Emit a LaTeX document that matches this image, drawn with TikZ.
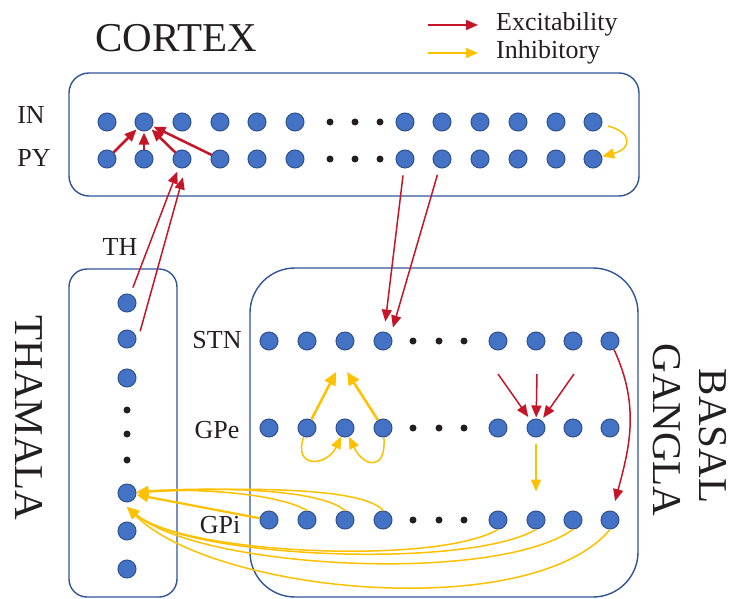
\documentclass[tikz,border=0pt]{standalone}
\usepackage{fontspec}
\setmainfont{Liberation Serif}
\usetikzlibrary{arrows.meta,calc}
\definecolor{exccol}{RGB}{196,22,40}
\definecolor{inhcol}{RGB}{255,192,0}
\definecolor{nfill}{RGB}{68,114,196}
\definecolor{nedge}{RGB}{47,82,143}
\definecolor{boxcol}{RGB}{47,85,151}
\definecolor{txtcol}{RGB}{35,31,32}
\begin{document}
\begin{tikzpicture}[x=1pt,y=1pt,
  neuron/.style={circle,fill=nfill,draw=nedge,line width=1pt,minimum size=18pt,inner sep=0pt},
  region/.style={draw=boxcol,line width=1.4pt},
  lbl/.style={text=txtcol,inner sep=0pt,font=\fontsize{26}{30}\selectfont},
  title/.style={text=txtcol,inner sep=0pt,font=\fontsize{41}{46}\selectfont},
  tip/.style={-{Triangle[length=12pt,width=10pt]}},
  exc/.style={tip,draw=exccol,line width=1.5pt},
  excthick/.style={exc,line width=2.5pt},
  inh/.style={tip,draw=inhcol,line width=1.5pt},
  inhthick/.style={inh,line width=2.5pt,-{Triangle[length=13pt,width=12pt]}}]
\useasboundingbox (0,0) rectangle (733,-599);

% region outlines
\draw[region,rounded corners=20pt] (69,-73) rectangle (639,-196);
\draw[region,rounded corners=18pt] (69,-269) rectangle (177,-597);
\draw[region,rounded corners=45pt] (250,-268) rectangle (638,-597);

% titles and row labels
\node[title] (cortex) at (176,-38) {CORTEX};
\node[title,rotate=-90] (thamala) at (29,-418) {THAMALA};
\node[title,rotate=-90] (basal) at (713,-436) {BASAL};
\node[title,rotate=-90] (gangla) at (667,-430) {GANGLA};
\node[lbl] (lin) at (31,-115) {IN};
\node[lbl] (lpy) at (34,-158) {PY};
\node[lbl] (lth) at (120,-247) {TH};
\node[lbl] (lstn) at (217,-340) {STN};
\node[lbl] (lgpe) at (217,-430) {GPe};
\node[lbl] (lgpi) at (220,-525) {GPi};

% legend
\coordinate (le1) at (428,-25); \coordinate (le2) at (478,-25);
\coordinate (li1) at (428,-53); \coordinate (li2) at (478,-53);
\draw[exc,line width=1.8pt] (le1) -- (le2);
\draw[inh,line width=1.8pt] (li1) -- (li2);
\node[lbl,anchor=west] (lexc) at (496,-24) {Excitability};
\node[lbl,anchor=west] (linh) at (496,-52) {Inhibitory};

% cortex: interneurons and pyramidal cells
\foreach \x [count=\i] in {107,144,182,220,257,295,405,442,480,518,556,593} {
  \node[neuron] (in\i) at (\x,-122) {};
  \node[neuron] (py\i) at (\x,-159) {};
}
\foreach \x in {330,355,380} {
  \fill[txtcol] (\x,-122) circle (3.5pt);
  \fill[txtcol] (\x,-159) circle (3.5pt);
}

% thalamus
\foreach \y [count=\i] in {303,339,378,493,531,569}
  \node[neuron] (th\i) at (127,-\y) {};
\foreach \y in {410,434,460}
  \fill[txtcol] (127,-\y) circle (3.5pt);

% basal ganglia rows
\foreach \x [count=\i] in {269,307,345,383,498,536,573,610} {
  \node[neuron] (stn\i) at (\x,-341) {};
  \node[neuron] (gpe\i) at (\x,-428) {};
  \node[neuron] (gpi\i) at (\x,-520) {};
}
\foreach \x in {413,439,464} {
  \fill[txtcol] (\x,-341) circle (3.5pt);
  \fill[txtcol] (\x,-428) circle (3.5pt);
  \fill[txtcol] (\x,-520) circle (3.5pt);
}

% cortex internal connections
\foreach \j in {1,2,3,4}
  \draw[excthick,shorten >=1pt] (py\j) -- (in2);
\draw[inh,shorten <=6pt] (in12) to[out=-15,in=15,looseness=2.5] (py12);

% thalamus -> cortex
\draw[exc,shorten <=7pt,shorten >=4pt] (th1) -- (py3);
\draw[exc,shorten <=8pt,shorten >=19pt] ($(th2)+(11,0)$) -- ($(py3)+(6,0)$);

% cortex -> STN
\draw[exc,shorten <=7pt,shorten >=10pt] (py7) -- (stn4);
\draw[exc,shorten <=7pt,shorten >=14pt] (py8) -- ($(stn4)+(6,0)$);

% STN -> GPe
\coordinate (sa) at (498,-374);
\coordinate (sb) at (537,-374);
\coordinate (sc) at (574,-374);
\draw[exc,shorten >=4pt] (sa) -- (gpe6);
\draw[exc,shorten >=1pt] (sb) -- (gpe6);
\draw[exc,shorten >=3pt] (sc) -- (gpe6);

% STN -> GPi
\draw[exc,shorten >=10pt] (stn8) to[out=-65,in=75] (gpi8);

% GPe -> STN
\coordinate (ga) at (336,-372);
\coordinate (gb) at (347,-372);
\draw[inhthick] (gpe2) -- (ga);
\draw[inhthick] (gpe4) -- (gb);

% GPe lateral inhibition
\draw[inh] (gpe2) to[out=-110,in=-115,looseness=2.3] (gpe3);
\draw[inh] (gpe4) to[out=-85,in=-65,looseness=2.5] (gpe3);

% GPe -> GPi
\draw[inh,shorten <=6pt,shorten >=19pt] (gpe6) -- (gpi6);

% GPi -> thalamus
\draw[inh,line width=2.2pt] (gpi1) -- (th4);
\draw[inh] (gpi2.north) to[out=150,in=5,looseness=0.6] (th4);
\draw[inh] (gpi3.north) to[out=140,in=5,looseness=0.5] (th4);
\draw[inh] (gpi4.north) to[out=130,in=3,looseness=0.4] (th4);
\coordinate (thin) at ($(th4)!0.37!(th5)$);
\draw[inh] (gpi5.south) to[out=-150,in=-40,looseness=0.5] (thin);
\draw[inh] (gpi6.south) to[out=-150,in=-40,looseness=0.5] (thin);
\draw[inh] (gpi7.south) to[out=-145,in=-40,looseness=0.55] (thin);
\draw[inh] (gpi8.south) to[out=-130,in=-45,looseness=0.65] (thin);
\end{tikzpicture}
\end{document}
